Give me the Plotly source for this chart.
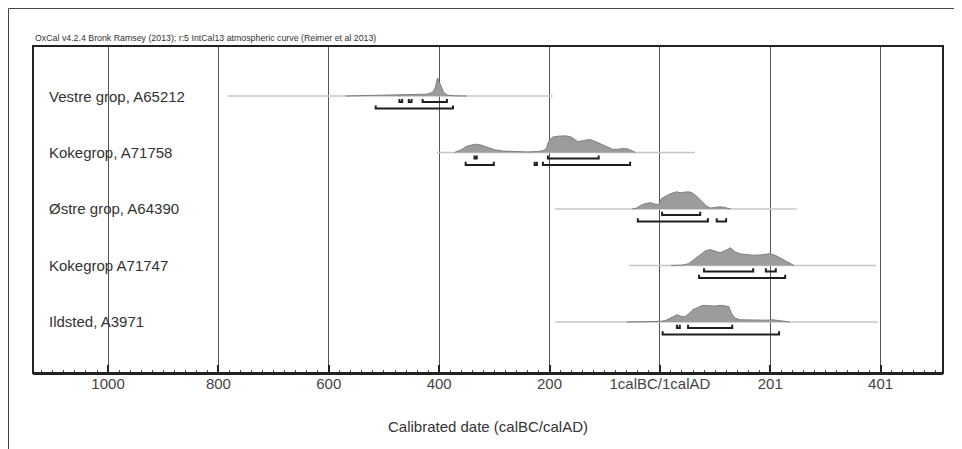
import plotly.graph_objects as go

# ---------------- data ----------------
row_names = ["Vestre grop, A65212", "Kokegrop, A71758", "Østre grop, A64390",
             "Kokegrop A71747", "Ildsted, A3971"]
row_pos = [5, 4, 3, 2, 1]

# prior span (grey horizontal line), years (BC negative, AD positive)
span_start = [-783, -404, -190, -56, -190]
span_end = [-194, 63, 248, 392, 395]

# posterior distributions: years and relative probability
vestre_x = [-570, -530, -480, -440, -422, -412, -407, -403, -398, -392, -385, -372, -350]
vestre_p = [0, 0.03, 0.04, 0.06, 0.1, 0.2, 0.45, 1.0, 0.6, 0.2, 0.05, 0.01, 0]

a71758_x = [-372, -360, -350, -340, -334, -325, -315, -300, -285, -260, -240, -222, -212,
            -206, -202, -195, -185, -170, -160, -149, -138, -127, -118, -103, -92, -85,
            -76, -67, -58, -50, -44]
a71758_p = [0, 0.15, 0.35, 0.44, 0.46, 0.42, 0.3, 0.15, 0.08, 0.04, 0.03, 0.05, 0.1,
            0.2, 0.6, 0.85, 0.9, 0.92, 0.85, 0.6, 0.65, 0.72, 0.62, 0.4, 0.25, 0.17,
            0.18, 0.22, 0.2, 0.08, 0]

ostre_x = [-50, -42, -35, -28, -18, -12, -5, -1, 2, 10, 20, 30, 37, 45, 52, 58, 65,
           75, 85, 92, 100, 108, 115, 122, 128]
ostre_p = [0, 0.05, 0.2, 0.28, 0.35, 0.28, 0.24, 0.3, 0.55, 0.7, 0.85, 0.95, 0.9,
           0.93, 0.95, 0.9, 0.75, 0.45, 0.15, 0.05, 0.08, 0.12, 0.1, 0.03, 0]

a71747_x = [20, 40, 52, 60, 72, 82, 91, 100, 109, 118, 128, 136, 145, 158, 169, 182,
            192, 200, 210, 220, 227, 235, 243]
a71747_p = [0, 0.02, 0.1, 0.3, 0.6, 0.8, 0.88, 0.78, 0.7, 0.82, 0.98, 0.75, 0.65, 0.6,
            0.57, 0.58, 0.62, 0.65, 0.55, 0.38, 0.24, 0.1, 0]

ildsted_x = [-60, -30, 0, 10, 18, 25, 31, 38, 45, 52, 60, 70, 78, 90, 100, 110, 120,
             125, 130, 136, 145, 170, 195, 205, 215, 225, 235]
ildsted_p = [0, 0.02, 0.03, 0.08, 0.2, 0.35, 0.4, 0.32, 0.28, 0.45, 0.68, 0.82, 0.92,
             0.9, 0.88, 0.92, 0.9, 0.85, 0.45, 0.22, 0.12, 0.1, 0.1, 0.12, 0.08, 0.03, 0]

dist_x = [vestre_x, a71758_x, ostre_x, a71747_x, ildsted_x]
dist_p = [vestre_p, a71758_p, ostre_p, a71747_p, ildsted_p]

# highest posterior density ranges (68.2% and 95.4%)
hpd68 = [
    [(-472, -467), (-455, -450), (-430, -386)],
    [(-336, -332), (-203, -111)],
    [(4, 73)],
    [(80, 169), (192, 210)],
    [(31, 36), (51, 131)],
]
hpd95 = [
    [(-515, -375)],
    [(-352, -301), (-227, -223), (-212, -54)],
    [(-40, 87), (103, 120)],
    [(71, 227)],
    [(5, 216)],
]

tick_vals = [-1000, -800, -600, -400, -200, 0, 200, 400]
tick_text = ["1000", "800", "600", "400", "200", "1calBC/1calAD", "201", "401"]

title_text = "OxCal v4.2.4 Bronk Ramsey (2013); r:5 IntCal13 atmospheric curve (Reimer et al 2013)"
x_title = "Calibrated date (calBC/calAD)"

# ---------------- drawing ----------------
HSCALE = 0.32      # height of a full-probability peak in row units
OFF68 = 0.106
OFF95 = 0.221
TICK = 0.055

fig = go.Figure()

for i, r in enumerate(row_pos):
    fig.add_trace(go.Scatter(x=[span_start[i], span_end[i]], y=[r, r], mode="lines",
                             line=dict(color="#c6c6c6", width=1.5), hoverinfo="skip"))
    fig.add_trace(go.Scatter(x=dist_x[i], y=[r + p * HSCALE for p in dist_p[i]],
                             mode="lines", fill="toself", fillcolor="#9c9c9c",
                             line=dict(color="#7e7e7e", width=1), hoverinfo="skip"))
    for ranges, off in ((hpd68[i], OFF68), (hpd95[i], OFF95)):
        bx, by = [], []
        yb = r - off
        for a, b in ranges:
            bx += [a, a, b, b, None]
            by += [yb + TICK, yb, yb, yb + TICK, None]
        fig.add_trace(go.Scatter(x=bx, y=by, mode="lines",
                                 line=dict(color="#1e1e1e", width=2), hoverinfo="skip"))

annotations = []
for name, r in zip(row_names, row_pos):
    annotations.append(dict(x=0.0154, xref="paper", y=r, yref="y", text=name,
                            showarrow=False, xanchor="left", yanchor="middle",
                            font=dict(size=15, color="#333333")))
annotations.append(dict(x=0, xref="paper", y=1.002, yref="paper", text=title_text,
                        showarrow=False, xanchor="left", yanchor="bottom",
                        font=dict(size=8.8, color="#333333")))

shapes = [
    dict(type="rect", xref="paper", yref="paper", x0=0, x1=1, y0=0, y1=1,
         line=dict(color="#222222", width=2)),
    dict(type="line", xref="paper", yref="paper", x0=-0.0269, x1=1.03, y0=1.1147, y1=1.1147,
         line=dict(color="#444444", width=1)),
    dict(type="line", xref="paper", yref="paper", x0=-0.0269, x1=-0.0269, y0=1.1147, y1=-0.3,
         line=dict(color="#444444", width=1)),
]

fig.update_layout(
    width=954, height=441,
    margin=dict(l=25, r=19, t=38, b=76),
    paper_bgcolor="white", plot_bgcolor="white",
    showlegend=False,
    font=dict(family="Liberation Sans, Arial, sans-serif", color="#444444"),
    annotations=annotations,
    shapes=shapes,
    xaxis=dict(
        range=[-1136, 513], tickmode="array", tickvals=tick_vals, ticktext=tick_text,
        ticks="inside", ticklen=8, tickwidth=1.5, tickcolor="#222222",
        ticklabelstandoff=-4,
        showgrid=True, gridcolor="#555555", gridwidth=1,
        showline=True, linecolor="#222222", linewidth=2,
        zeroline=False,
        tickfont=dict(size=15, color="#444444"),
        minor=dict(tickmode="linear", tick0=0, dtick=20, ticks="inside", ticklen=3,
                   tickcolor="#444444", tickwidth=1, showgrid=False),
        title=dict(text=x_title, font=dict(size=15, color="#333333"), standoff=30),
    ),
    yaxis=dict(range=[0.097, 5.885], showgrid=False, zeroline=False,
               showticklabels=False, ticks=""),
)

fig.write_html("out.html")
